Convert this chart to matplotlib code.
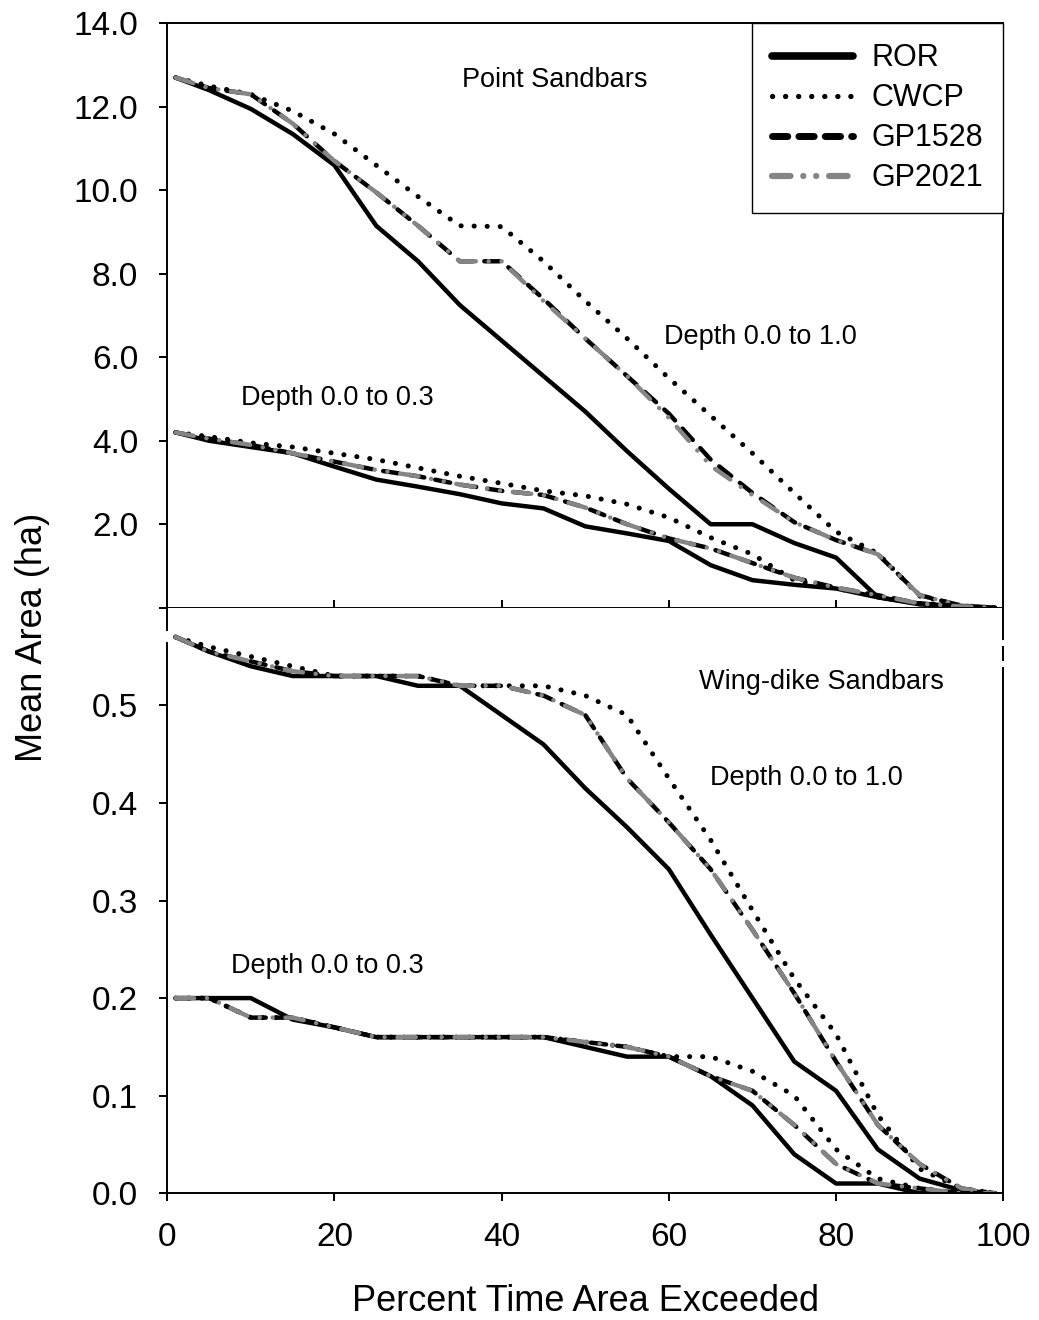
import numpy as np
import matplotlib
matplotlib.use('Agg')
import matplotlib.pyplot as plt

plt.rcParams['font.family'] = ['Liberation Sans', 'DejaVu Sans']
plt.rcParams['lines.scale_dashes'] = False

# percent of time the area is exceeded
pct = [1, 5, 10, 15, 20, 25, 30, 35, 40, 45, 50, 55, 60, 65, 70, 75, 80, 85, 90, 95, 99]

# Point sandbars, depth 0.0 to 1.0 (ha)
ror_pt_10 = [12.7, 12.4, 11.95, 11.35, 10.6, 9.15, 8.3, 7.25, 6.4, 5.55, 4.7, 3.75, 2.85, 2.0, 2.0, 1.55, 1.2, 0.25, 0.08, 0.02, 0.0]
cwcp_pt_10 = [12.7, 12.5, 12.3, 11.9, 11.35, 10.6, 9.85, 9.15, 9.13, 8.3, 7.35, 6.45, 5.5, 4.6, 3.7, 2.75, 1.82, 1.3, 0.28, 0.05, 0.0]
gp1528_pt_10 = [12.7, 12.45, 12.3, 11.6, 10.7, 9.95, 9.15, 8.3, 8.3, 7.4, 6.45, 5.55, 4.65, 3.55, 2.75, 2.05, 1.62, 1.28, 0.3, 0.05, 0.0]
gp2021_pt_10 = [12.7, 12.45, 12.3, 11.6, 10.7, 9.95, 9.15, 8.3, 8.3, 7.35, 6.45, 5.55, 4.55, 3.4, 2.7, 2.05, 1.62, 1.28, 0.3, 0.05, 0.0]

# Point sandbars, depth 0.0 to 0.3 (ha)
ror_pt_03 = [4.2, 4.0, 3.85, 3.7, 3.38, 3.07, 2.9, 2.72, 2.5, 2.38, 1.95, 1.78, 1.6, 1.02, 0.66, 0.55, 0.46, 0.25, 0.1, 0.03, 0.0]
cwcp_pt_03 = [4.2, 4.1, 3.95, 3.85, 3.7, 3.55, 3.35, 3.15, 2.98, 2.8, 2.68, 2.48, 2.16, 1.68, 1.28, 0.66, 0.46, 0.28, 0.1, 0.03, 0.0]
gp1528_pt_03 = [4.2, 4.05, 3.9, 3.7, 3.5, 3.3, 3.15, 2.95, 2.8, 2.7, 2.4, 2.0, 1.66, 1.42, 1.07, 0.72, 0.48, 0.3, 0.1, 0.03, 0.0]
gp2021_pt_03 = [4.2, 4.05, 3.9, 3.7, 3.5, 3.3, 3.15, 2.95, 2.8, 2.7, 2.4, 2.0, 1.66, 1.42, 1.07, 0.72, 0.48, 0.3, 0.1, 0.03, 0.0]

# Wing-dike sandbars, depth 0.0 to 1.0 (ha)
ror_wd_10 = [0.57, 0.555, 0.54, 0.53, 0.53, 0.53, 0.52, 0.52, 0.49, 0.46, 0.415, 0.375, 0.332, 0.265, 0.2, 0.135, 0.105, 0.045, 0.015, 0.003, 0.0]
cwcp_wd_10 = [0.57, 0.56, 0.55, 0.54, 0.53, 0.53, 0.53, 0.52, 0.52, 0.52, 0.51, 0.49, 0.425, 0.362, 0.29, 0.22, 0.163, 0.08, 0.025, 0.005, 0.0]
gp1528_wd_10 = [0.57, 0.555, 0.545, 0.535, 0.53, 0.53, 0.53, 0.52, 0.52, 0.51, 0.49, 0.425, 0.38, 0.332, 0.27, 0.205, 0.135, 0.07, 0.03, 0.005, 0.0]
gp2021_wd_10 = [0.57, 0.555, 0.545, 0.535, 0.53, 0.53, 0.53, 0.52, 0.52, 0.51, 0.49, 0.425, 0.38, 0.332, 0.27, 0.205, 0.135, 0.07, 0.03, 0.005, 0.0]

# Wing-dike sandbars, depth 0.0 to 0.3 (ha)
ror_wd_03 = [0.2, 0.2, 0.2, 0.178, 0.17, 0.16, 0.16, 0.16, 0.16, 0.16, 0.15, 0.14, 0.14, 0.12, 0.09, 0.04, 0.01, 0.01, 0.0, 0.0, 0.0]
cwcp_wd_03 = [0.2, 0.2, 0.18, 0.18, 0.17, 0.16, 0.16, 0.16, 0.16, 0.16, 0.155, 0.15, 0.14, 0.14, 0.125, 0.1, 0.045, 0.015, 0.005, 0.0, 0.0]
gp1528_wd_03 = [0.2, 0.2, 0.18, 0.18, 0.17, 0.16, 0.16, 0.16, 0.16, 0.16, 0.155, 0.15, 0.14, 0.12, 0.105, 0.07, 0.03, 0.01, 0.005, 0.0, 0.0]
gp2021_wd_03 = [0.2, 0.2, 0.18, 0.18, 0.17, 0.16, 0.16, 0.16, 0.16, 0.16, 0.155, 0.15, 0.14, 0.12, 0.105, 0.07, 0.03, 0.01, 0.005, 0.0, 0.0]

labels = ['ROR', 'CWCP', 'GP1528', 'GP2021']
gray = '#858585'
styles = [
    dict(color='black', linestyle='-', solid_capstyle='round', lw=3.2),
    dict(color='black', linestyle=(0, (0.1, 9.3)), dash_capstyle='round', lw=3.6),
    dict(color='black', linestyle=(0, (11.0, 8.0)), dash_capstyle='round', lw=3.2),
    dict(color=gray, linestyle=(0, (13.3, 9.2, 0.1, 9.2, 0.1, 9.2)), dash_capstyle='round', lw=3.2),
]

fig = plt.figure(figsize=(10.39, 13.2), dpi=100)
ax1 = fig.add_axes([0.161, 0.5396, 0.8046, 0.4427])
ax2 = fig.add_axes([0.161, 0.0960, 0.8046, 0.4436])

top_sets = [(ror_pt_10, cwcp_pt_10, gp1528_pt_10, gp2021_pt_10),
            (ror_pt_03, cwcp_pt_03, gp1528_pt_03, gp2021_pt_03)]
bot_sets = [(ror_wd_10, cwcp_wd_10, gp1528_wd_10, gp2021_wd_10),
            (ror_wd_03, cwcp_wd_03, gp1528_wd_03, gp2021_wd_03)]

for k, group in enumerate(top_sets):
    for i, ys in enumerate(group):
        ax1.plot(pct, ys, label=labels[i] if k == 0 else None, **styles[i])
for group in bot_sets:
    for i, ys in enumerate(group):
        ax2.plot(pct, ys, **styles[i])

for ax in (ax1, ax2):
    ax.set_xlim(0, 100)
    for s in ax.spines.values():
        s.set_linewidth(1.4)
    ax.tick_params(axis='y', direction='out', length=6, width=1.4, labelsize=24, pad=15)

# top panel
ax1.set_ylim(0, 14)
ax1.set_yticks(np.arange(0, 15, 2))
ax1.set_yticklabels([''] + ['%.1f' % v for v in np.arange(2, 15, 2)])
ax1.set_xticks([20, 40, 60, 80])
ax1.tick_params(axis='x', direction='inout', length=11.5, width=1.4, labelbottom=False)

# bottom panel
ax2.set_ylim(0, 0.6)
ax2.set_yticks(np.arange(0, 0.51, 0.1))
ax2.set_yticklabels(['%.1f' % v for v in np.arange(0, 0.51, 0.1)])
ax2.set_xticks(np.arange(0, 101, 20))
ax2.tick_params(axis='x', direction='out', length=6, width=1.4, labelsize=24, pad=14.5)
ax2.spines['top'].set_visible(False)

# axis breaks
ax2.plot([0, 0], [0.565, 0.576], color='white', lw=3, solid_capstyle='butt', clip_on=False, zorder=10)
ax2.plot([100, 100], [0.561, 0.567], color='white', lw=3, solid_capstyle='butt', clip_on=False, zorder=10)
ax2.plot([100, 100], [0.539, 0.545], color='white', lw=3, solid_capstyle='butt', clip_on=False, zorder=10)

# annotations
ax1.text(46.4, 12.64, 'Point Sandbars', ha='center', va='center', fontsize=19.5)
ax1.text(70.9, 6.48, 'Depth 0.0 to 1.0', ha='center', va='center', fontsize=19.5)
ax1.text(20.3, 5.02, 'Depth 0.0 to 0.3', ha='center', va='center', fontsize=19.5)
ax2.text(78.3, 0.524, 'Wing-dike Sandbars', ha='center', va='center', fontsize=19.5)
ax2.text(76.5, 0.4255, 'Depth 0.0 to 1.0', ha='center', va='center', fontsize=19.5)
ax2.text(19.1, 0.233, 'Depth 0.0 to 0.3', ha='center', va='center', fontsize=19.5)

leg = ax1.legend(loc='upper right', bbox_to_anchor=(1, 1), borderaxespad=0, fontsize=22,
                 handlelength=2.65, handletextpad=0.6, borderpad=0.65,
                 labelspacing=0.33, fancybox=False, framealpha=1, edgecolor='black')
leg.get_frame().set_linewidth(1.0)
for ln, w in zip(leg.get_lines(), [5.5, 3.8, 5.0, 4.5]):
    ln.set_linewidth(w)

fig.text(33 / 1039, 1 - 637 / 1320, 'Mean Area (ha)', rotation=90, ha='center', va='center', fontsize=26)
fig.text(585 / 1039, 1 - 1311 / 1320, 'Percent Time Area Exceeded', ha='center', va='baseline', fontsize=26)

fig.savefig('out.png', dpi=100)
